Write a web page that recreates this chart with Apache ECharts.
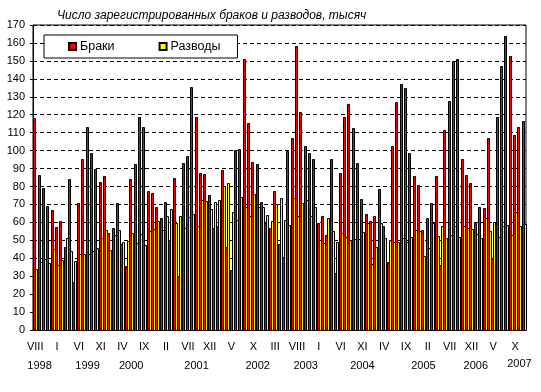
<!DOCTYPE html>
<html>
<head>
<meta charset="utf-8">
<script src="https://cdn.jsdelivr.net/npm/echarts@6/dist/echarts.min.js"></script>
<style>
html,body{margin:0;padding:0;background:#fff;}
#chart{width:541px;height:392px;}
</style>
</head>
<body>
<div id="chart"></div>
<script>
// Month labels (Roman numerals), data runs from VIII 1998 to XII 2007
const romanMonths = ['I','II','III','IV','V','VI','VII','VIII','IX','X','XI','XII'];
const firstYear = 1998, firstMonth = 8, lastYear = 2007, lastMonth = 12;

// Marriages, thousands (Браки)
const marriages = [
  118, 86.5, 79, 69, 67,
  57.3, 60.6, 46, 84, 27, 70.8, 95.3, 113.3, 98.8, 89.5, 82.7, 86,
  54, 56.7, 70.7, 48, 35.7, 84.2, 92.6, 118.9, 113.3, 77.2, 76.3, 68.5,
  62.3, 71.1, 50, 84.7, 30, 93, 96.9, 135.4, 118.7, 87.4, 86.9, 75.3,
  57, 58, 89.1, 46, 33.5, 100.4, 101, 151, 115.3, 93.6, 92.5, 71.1,
  59.5, 57, 77.4, 48, 40.6, 99.9, 107.2, 158.5, 121.5, 102.5, 98.8, 95.3,
  59.7, 63.4, 53, 95.3, 31.6, 87.4, 118.7, 126, 112.5, 93, 72.9, 64.6,
  60.7, 63.4, 78.5, 58.2, 38, 102.7, 127.2, 137.1, 134.9, 98.6, 86, 81,
  55.6, 62.5, 70.9, 86, 36.3, 111.6, 127.8, 149.8, 151, 95.3, 86.5, 81.9,
  59.7, 68.5, 67.9, 107, 40.4, 118.7, 147.3, 164, 152.9, 108.8, 113.3, 116.6
];

// Divorces, thousands (Разводы)
const divorces = [
  34, 37.8, 39.8, 37.2, 45,
  36.3, 39.1, 51.2, 44.1, 38.4, 42.2, 42.2, 42.2, 44.1, 45.6, 51.2, 55.8,
  44.6, 53, 55.8, 49.3, 49.6, 54, 48.4, 53.5, 47.4, 55.2, 56.1, 60.8,
  55.8, 63.3, 67.4, 59.5, 63.3, 56.7, 62.9, 64.6, 57.7, 72.4, 71.8, 67.4,
  71.6, 72.6, 80, 81.9, 65.7, 61.4, 74, 68.5, 63.4, 75.9, 68.7, 68.3,
  64, 60.8, 70.3, 73.5, 61.4, 58.6, 73.5, 63.6, 70.7, 72.6, 63.6, 68.5,
  49.9, 48.4, 62.3, 55.3, 49.3, 53.9, 51.7, 50.2, 50.6, 50.6, 54.5, 59.5,
  36.7, 46.5, 59.9, 51.2, 50.2, 49.3, 48.8, 51.2, 48.8, 51.7, 55.8, 55.4,
  41.3, 45.8, 59.9, 52.5, 57.7, 51.2, 53, 57.7, 51.7, 58, 57, 56.4,
  53.6, 51.2, 62.5, 55.1, 60.3, 51.7, 58, 58.6, 53, 65.5, 58, 59.2
];

// Year labels and the month (category index) under which each is written
const yearLabels = ['1998','1999','2000','2001','2002','2003','2004','2005','2006','2007'];
const yearLabelAt = [1, 12, 22, 37, 51, 62, 75, 89, 101, 111];

const seriesNames = ['Браки', 'Разводы'];
const titleText = 'Число зарегистрированных браков и разводов, тысяч';

// categories
const categories = [];
for (let y = firstYear; y <= lastYear; y++) {
  const m0 = (y === firstYear) ? firstMonth : 1;
  const m1 = (y === lastYear) ? lastMonth : 12;
  for (let m = m0; m <= m1; m++) categories.push(romanMonths[m - 1]);
}
const yearMap = {};
yearLabels.forEach((t, i) => { yearMap[yearLabelAt[i]] = t; });
const lastYearIdx = yearLabelAt[yearLabelAt.length - 1];

// Crisp 3-pixel column (black | fill | black); shift in px relative to the category centre
function columnRenderer(fill, shift) {
  return function (params, api) {
    const top = api.coord([api.value(0), api.value(1)]);
    const base = api.coord([api.value(0), 0]);
    const x0 = Math.round(top[0]) + shift;
    const yTop = Math.round(top[1]);
    const yBase = Math.round(base[1]);
    return {
      type: 'rect',
      shape: {x: x0 + 0.5, y: yTop + 0.5, width: 2, height: yBase - yTop},
      style: {fill: fill, stroke: '#000', lineWidth: 1}
    };
  };
}

const FONT = 'Liberation Sans, Arial, sans-serif';
const chart = echarts.init(document.getElementById('chart'), null, {renderer: 'canvas'});
chart.setOption({
  animation: false,
  backgroundColor: '#fff',
  title: {
    text: titleText,
    left: 52, top: 5,
    textStyle: {fontFamily: FONT, fontSize: 12, fontStyle: 'italic', fontWeight: 'normal', color: '#000'}
  },
  legend: {
    data: seriesNames,
    left: 44, top: 35,
    padding: [5, 17, 5, 24],
    itemGap: 44,
    itemWidth: 7, itemHeight: 7,
    icon: 'rect',
    backgroundColor: '#fff',
    borderColor: '#000', borderWidth: 1,
    textStyle: {fontFamily: FONT, fontSize: 12.5, color: '#000', padding: [0, 0, 0, -1]}
  },
  grid: {
    left: 33, right: 15, top: 25, bottom: 62,
    show: true, borderColor: '#000', borderWidth: 1, backgroundColor: 'transparent'
  },
  xAxis: [{
    type: 'category',
    data: categories,
    axisLine: {show: true, lineStyle: {color: '#000', width: 1}},
    axisTick: {show: false},
    axisLabel: {interval: 4, margin: 11, fontFamily: FONT, fontSize: 11, color: '#000'},
    splitLine: {show: false}
  }, {
    type: 'category',
    data: categories,
    position: 'bottom',
    axisLine: {show: false},
    axisTick: {show: false},
    axisLabel: {
      interval: 0, margin: 30, fontFamily: FONT, fontSize: 11, color: '#000',
      formatter: (v, i) => yearMap[i] ? (i === lastYearIdx ? '{up|' + yearMap[i] + '}' : yearMap[i]) : '',
      rich: {up: {fontFamily: FONT, fontSize: 11, color: '#000', lineHeight: 8}}
    },
    splitLine: {show: false}
  }],
  yAxis: {
    type: 'value',
    min: 0, max: 170, interval: 10,
    axisLine: {show: true, lineStyle: {color: '#000', width: 1}},
    axisTick: {show: true, length: 3, lineStyle: {color: '#000'}},
    axisLabel: {margin: 8, fontFamily: FONT, fontSize: 11, color: '#000'},
    splitLine: {show: true, lineStyle: {color: '#000', width: 1, type: [4, 3]}}
  },
  series: [{
    name: seriesNames[0],
    type: 'custom',
    renderItem: columnRenderer('#ff0000', -2),
    encode: {x: 0, y: 1},
    data: marriages.map((v, i) => [i, v]),
    itemStyle: {color: '#ff0000', borderColor: '#000', borderWidth: 1}
  }, {
    name: seriesNames[1],
    type: 'custom',
    renderItem: columnRenderer('#ffff00', 0),
    encode: {x: 0, y: 1},
    data: divorces.map((v, i) => [i, v]),
    itemStyle: {color: '#ffff00', borderColor: '#000', borderWidth: 1}
  }]
});
</script>
</body>
</html>
